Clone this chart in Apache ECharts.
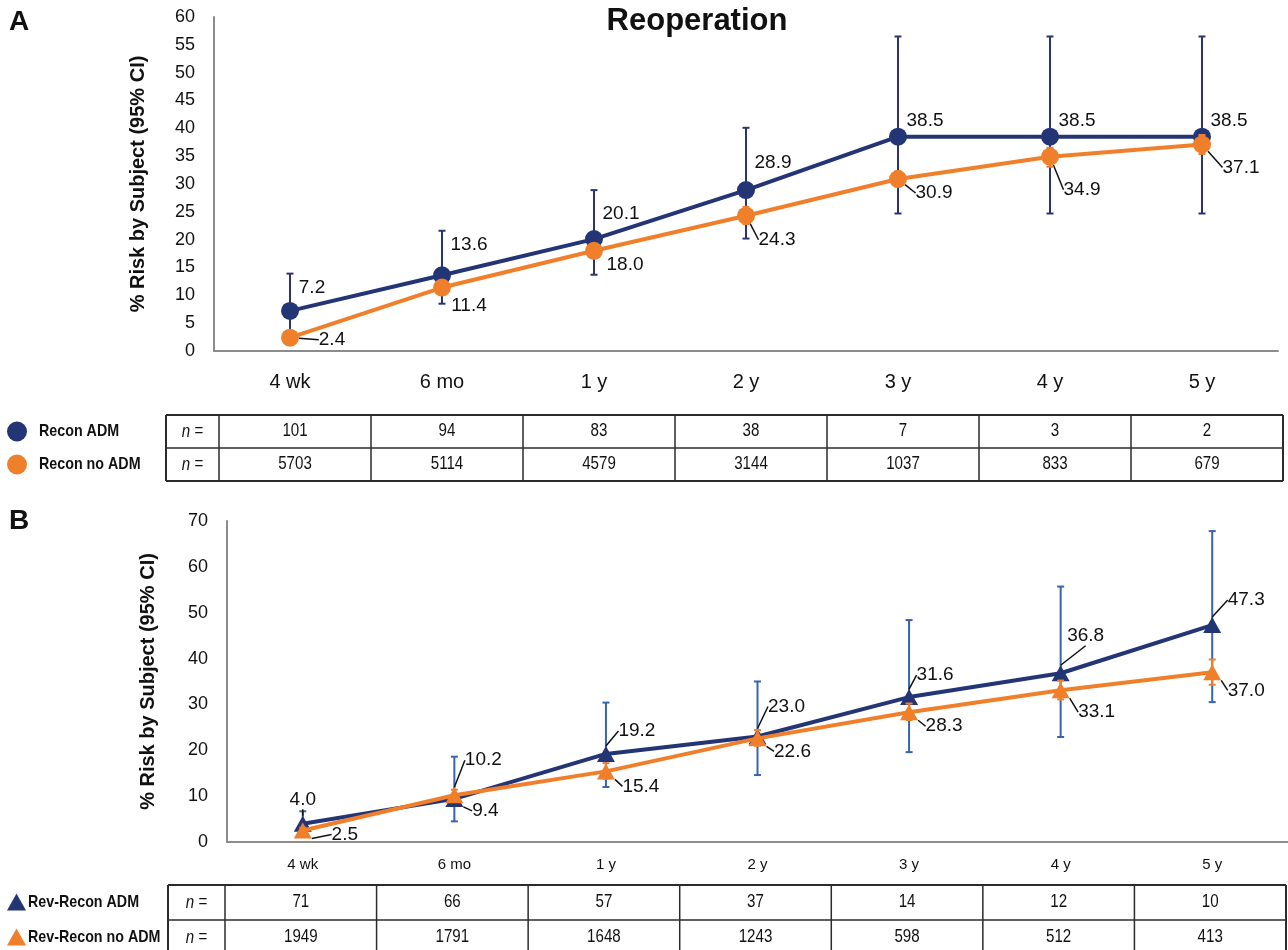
<!DOCTYPE html>
<html>
<head>
<meta charset="utf-8">
<script src="https://cdn.jsdelivr.net/npm/echarts@6/dist/echarts.min.js"></script>
<style>
  html, body { margin: 0; padding: 0; background: #ffffff; }
  #chart { width: 1288px; height: 950px; }
</style>
</head>
<body>
<div id="chart"></div>
<script>
// ---- data -------------------------------------------------------------
const timepoints = ['4 wk', '6 mo', '1 y', '2 y', '3 y', '4 y', '5 y'];
const yTicksA = { min: 0, max: 60, step: 5 };
const yTicksB = { min: 0, max: 70, step: 10 };

// Panel A: reconstruction
const reconAdm      = [7.2, 13.6, 20.1, 28.9, 38.5, 38.5, 38.5];
const reconAdmLow   = [3.5, 8.5, 13.7, 20.2, 24.7, 24.7, 24.7];
const reconAdmHigh  = [13.9, 21.6, 28.9, 40.1, 56.5, 56.5, 56.5];
const reconNoAdm     = [2.4, 11.4, 18.0, 24.3, 30.9, 34.9, 37.1];
const reconNoAdmLow  = [2.0, 10.6, 17.0, 22.8, 29.5, 33.1, 35.4];
const reconNoAdmHigh = [2.9, 12.2, 19.0, 25.9, 32.3, 36.5, 38.8];
const reconAdmN   = [101, 94, 83, 38, 7, 3, 2];
const reconNoAdmN = [5703, 5114, 4579, 3144, 1037, 833, 679];

// Panel B: revision reconstruction
const revAdm      = [4.0, 9.4, 19.2, 23.0, 31.6, 36.8, 47.3];
const revAdmLow   = [1.2, 4.5, 12.0, 14.6, 19.6, 22.9, 30.5];
const revAdmHigh  = [6.7, 18.6, 30.4, 35.0, 48.4, 55.7, 67.8];
const revNoAdm     = [2.5, 10.2, 15.4, 22.6, 28.3, 33.1, 37.0];
const revNoAdmLow  = [1.9, 9.0, 13.8, 21.0, 26.6, 31.1, 34.3];
const revNoAdmHigh = [3.1, 11.4, 17.2, 24.4, 30.2, 35.2, 39.8];
const revAdmN   = [71, 66, 57, 37, 14, 12, 10];
const revNoAdmN = [1949, 1791, 1648, 1243, 598, 512, 413];

const seriesNames = ['Recon ADM', 'Recon no ADM', 'Rev-Recon ADM', 'Rev-Recon no ADM'];

// ---- layout & styling ------------------------------------------------
const NAVY = '#243575';
const NAVY_BAR = '#2a3473';
const BLUE_BAR = '#3863b2';
const ORANGE = '#f07f2c';
const INK = '#111111';
const SANS = "'Liberation Sans', Arial, Helvetica, sans-serif";
const CONDENSE = 0.84;   // horizontal squeeze for the table and key text

const gridA = { left: 214, top: 17, width: 1064, height: 334 };
const gridB = { left: 227, top: 521, width: 1061, height: 321 };

// label centre offsets from each point (px) and whether a leader line is drawn
const offReconAdm   = [[22, -23], [27, -31], [27, -25], [27, -27], [27, -16], [27, -16], [27, -16]];
const offReconNoAdm = [[42, 2], [27, 18], [31, 14], [31, 24], [36, 14], [32, 33], [39, 23]];
const leadReconAdm   = [false, false, false, false, false, false, false];
const leadReconNoAdm = [true, false, false, true, true, true, true];
const offRevAdm   = [[0, -24], [31, 12], [31, -23], [29, -30], [26, -22], [25, -37], [34, -25]];
const offRevNoAdm = [[42, 4], [29, -35], [35, 15], [35, 13], [35, 14], [36, 22], [34, 18]];
const leadRevAdm   = [true, true, true, true, true, true, true];
const leadRevNoAdm = [true, true, true, true, true, true, true];

function errorBars(axisIndex, low, high, color, cap, z) {
  return {
    type: 'custom',
    xAxisIndex: axisIndex,
    yAxisIndex: axisIndex,
    z: z,
    silent: true,
    data: low.map((l, i) => [i, l, high[i]]),
    encode: { x: 0, y: [1, 2] },
    renderItem: function (params, api) {
      const lo = api.coord([api.value(0), api.value(1)]);
      const hi = api.coord([api.value(0), api.value(2)]);
      const h = cap / 2;
      const st = { stroke: color, lineWidth: 2 };
      return {
        type: 'group',
        children: [
          { type: 'line', shape: { x1: lo[0], y1: lo[1], x2: hi[0], y2: hi[1] }, style: st },
          { type: 'line', shape: { x1: lo[0] - h, y1: lo[1], x2: lo[0] + h, y2: lo[1] }, style: st },
          { type: 'line', shape: { x1: hi[0] - h, y1: hi[1], x2: hi[0] + h, y2: hi[1] }, style: st }
        ]
      };
    }
  };
}

function riskLine(name, axisIndex, values, color, symbol, size, offsets, leaders, z) {
  return {
    name: name,
    type: 'line',
    xAxisIndex: axisIndex,
    yAxisIndex: axisIndex,
    z: z,
    data: values.map((v, i) => ({ value: v, labelLine: { show: leaders[i] } })),
    symbol: symbol,
    symbolSize: size,
    lineStyle: { color: color, width: 4 },
    itemStyle: { color: color },
    label: {
      show: true,
      position: 'inside',
      color: INK,
      textBorderWidth: 0,
      fontFamily: SANS,
      fontSize: 19,
      formatter: p => p.value.toFixed(1)
    },
    labelLayout: p => ({ dx: offsets[p.dataIndex][0], dy: offsets[p.dataIndex][1] }),
    labelLine: { show: true, lineStyle: { color: INK, width: 1.5 } },
    emphasis: { disabled: true },
    animation: false
  };
}

// condensed text element
function narrowText(x, y, text, opts) {
  return {
    type: 'text', x: x, y: y, scaleX: CONDENSE, silent: true,
    style: Object.assign({ text: text, fill: INK, verticalAlign: 'middle', font: '18px ' + SANS }, opts || {})
  };
}

// n-at-risk table drawn under each panel
function riskTable(x0, colStart, colW, top, rowH, rows) {
  const els = [];
  const ncol = rows[0].length;
  const right = colStart + colW * ncol;
  const bottom = top + rowH * rows.length;
  const line = (x1, y1, x2, y2, w) => els.push({
    type: 'line', shape: { x1, y1, x2, y2 }, style: { stroke: '#2b2b2b', lineWidth: w }
  });
  line(x0, top, right, top, 2);
  line(x0, bottom, right, bottom, 2);
  line(x0, top, x0, bottom, 2);
  line(right, top, right, bottom, 2);
  for (let r = 1; r < rows.length; r++) line(x0, top + rowH * r, right, top + rowH * r, 1.5);
  for (let c = 0; c < ncol; c++) line(colStart + colW * c, top, colStart + colW * c, bottom, 1.5);
  rows.forEach((row, r) => {
    const cy = top + rowH * r + rowH / 2;
    els.push(narrowText((x0 + colStart) / 2, cy, '{i|n} =', {
      align: 'center',
      rich: { i: { fontStyle: 'italic', fontSize: 18, fontFamily: SANS } }
    }));
    row.forEach((v, c) => els.push(narrowText(colStart + colW * (c + 0.5), cy, String(v), { align: 'center' })));
  });
  return { type: 'group', silent: true, children: els };
}

// series key placed beside each table
function seriesKey(names, colors, marker, top, rowH, textX) {
  const els = [];
  names.forEach((n, i) => {
    const cy = top + rowH * i + rowH / 2;
    if (marker === 'circle') {
      els.push({ type: 'circle', shape: { cx: 17, cy: cy, r: 10 }, style: { fill: colors[i] }, silent: true });
    } else {
      els.push({ type: 'polygon', shape: { points: [[16.5, cy - 9], [26, cy + 8], [7, cy + 8]] }, style: { fill: colors[i] }, silent: true });
    }
    els.push(narrowText(textX, cy, n, { align: 'left', font: 'bold 17px ' + SANS }));
  });
  return { type: 'group', children: els };
}

const axisLineStyle = { show: true, lineStyle: { color: '#8c8c8c', width: 2 } };

const option = {
  backgroundColor: '#ffffff',
  animation: false,
  grid: [
    { left: gridA.left, top: gridA.top, width: gridA.width, height: gridA.height },
    { left: gridB.left, top: gridB.top, width: gridB.width, height: gridB.height }
  ],
  xAxis: [
    {
      type: 'category', gridIndex: 0, data: timepoints, boundaryGap: true,
      axisLine: axisLineStyle, axisTick: { show: false },
      axisLabel: { color: INK, fontFamily: SANS, fontSize: 20, margin: 21 }
    },
    {
      type: 'category', gridIndex: 1, data: timepoints, boundaryGap: true,
      axisLine: axisLineStyle, axisTick: { show: false },
      axisLabel: { color: INK, fontFamily: SANS, fontSize: 15, margin: 15 }
    }
  ],
  yAxis: [
    {
      type: 'value', gridIndex: 0, min: yTicksA.min, max: yTicksA.max, interval: yTicksA.step,
      axisLine: axisLineStyle, axisTick: { show: false }, splitLine: { show: false },
      axisLabel: { color: INK, fontFamily: SANS, fontSize: 18, margin: 19 },
      name: '% Risk by Subject (95% CI)', nameLocation: 'middle', nameGap: 66,
      nameTextStyle: { color: INK, fontFamily: SANS, fontSize: 20, fontWeight: 'bold' }
    },
    {
      type: 'value', gridIndex: 1, min: yTicksB.min, max: yTicksB.max, interval: yTicksB.step,
      axisLine: axisLineStyle, axisTick: { show: false }, splitLine: { show: false },
      axisLabel: { color: INK, fontFamily: SANS, fontSize: 18, margin: 19 },
      name: '% Risk by Subject (95% CI)', nameLocation: 'middle', nameGap: 69,
      nameTextStyle: { color: INK, fontFamily: SANS, fontSize: 20, fontWeight: 'bold' }
    }
  ],
  graphic: [
    { type: 'text', x: 9, y: 8, style: { text: 'A', font: 'bold 28px ' + SANS, fill: INK }, silent: true },
    { type: 'text', x: 9, y: 507, style: { text: 'B', font: 'bold 28px ' + SANS, fill: INK }, silent: true },
    { type: 'text', x: 697, y: 6, style: { text: 'Reoperation', align: 'center', font: 'bold 31px ' + SANS, fill: INK }, silent: true },
    riskTable(166, gridA.left + 5, gridA.width / timepoints.length, 415, 33, [reconAdmN, reconNoAdmN]),
    riskTable(168, gridB.left - 2, gridB.width / timepoints.length, 885, 35, [revAdmN, revNoAdmN]),
    seriesKey(seriesNames.slice(0, 2), [NAVY, ORANGE], 'circle', 415, 33, 39),
    seriesKey(seriesNames.slice(2, 4), [NAVY, ORANGE], 'triangle', 885, 35, 28)
  ],
  series: [
    errorBars(0, reconAdmLow, reconAdmHigh, NAVY_BAR, 7, 1),
    riskLine(seriesNames[0], 0, reconAdm, NAVY, 'circle', 18, offReconAdm, leadReconAdm, 2),
    riskLine(seriesNames[1], 0, reconNoAdm, ORANGE, 'circle', 18, offReconNoAdm, leadReconNoAdm, 3),
    errorBars(0, reconNoAdmLow, reconNoAdmHigh, ORANGE, 7, 4),

    errorBars(1, revAdmLow, revAdmHigh, BLUE_BAR, 7, 1),
    riskLine(seriesNames[2], 1, revAdm, NAVY, 'triangle', [18, 16], offRevAdm, leadRevAdm, 2),
    riskLine(seriesNames[3], 1, revNoAdm, ORANGE, 'triangle', [18, 16], offRevNoAdm, leadRevNoAdm, 3),
    errorBars(1, revNoAdmLow, revNoAdmHigh, ORANGE, 7, 4)
  ]
};

const chart = echarts.init(document.getElementById('chart'), null, { renderer: 'canvas' });
chart.setOption(option);
</script>
</body>
</html>
